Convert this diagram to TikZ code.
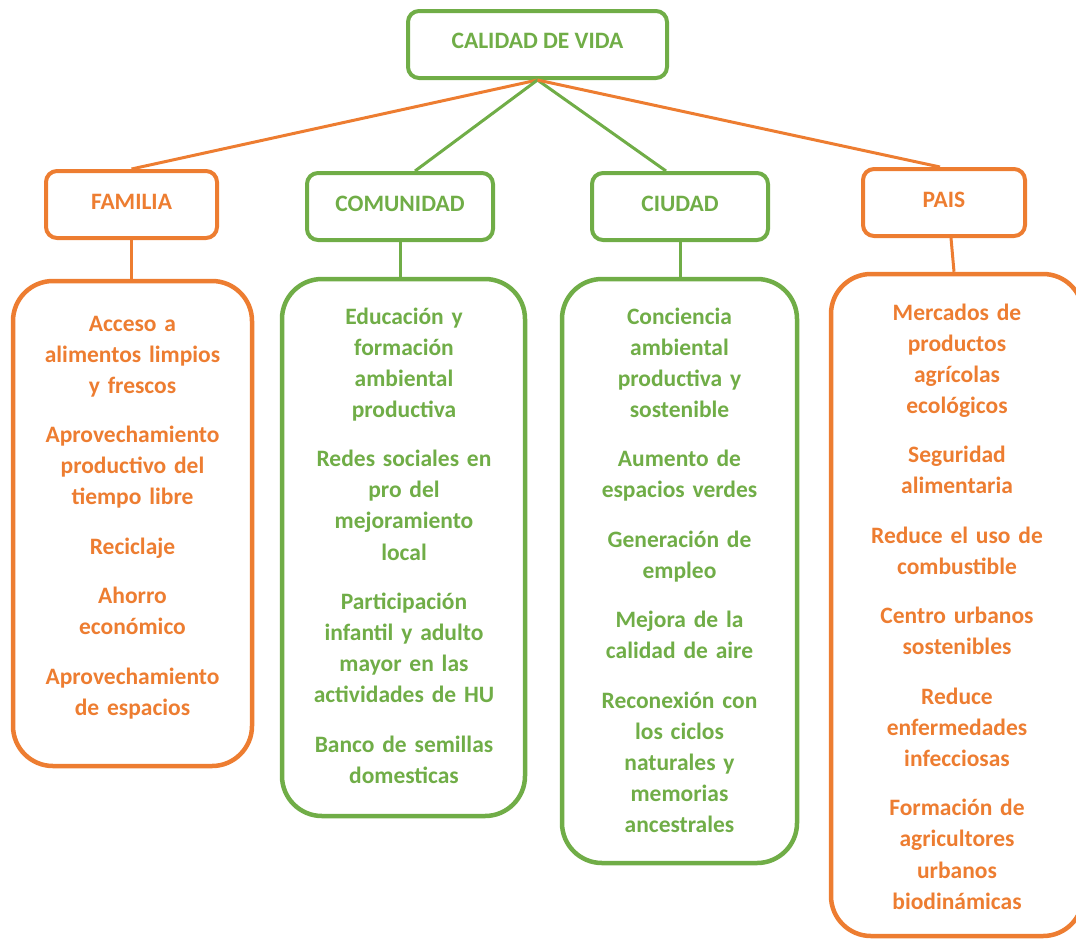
\documentclass[tikz,border=0pt]{standalone}
\usepackage{fontspec}
\setmainfont{Carlito}
\definecolor{myor}{HTML}{ED7D31}
\definecolor{mygr}{HTML}{70AD47}
\tikzset{
  hdr/.style={draw, rounded corners=11pt, line width=4pt, inner sep=0pt,
    minimum height=67pt, text height=15pt, text depth=6pt,
    font=\bfseries\fontsize{23.5pt}{28pt}\selectfont},
  lbox/.style={draw, rounded corners=40pt, line width=4.5pt, inner sep=0pt},
  ltext/.style={align=center, text width=250pt, inner sep=0pt, anchor=base,
    font=\bfseries\fontsize{23.5pt}{31.1pt}\selectfont},
  conn/.style={line width=3pt},
}
\begin{document}
\begin{tikzpicture}[x=1pt,y=-1pt]
\useasboundingbox (0,0) rectangle (1076,938);
\clip (0,0) rectangle (1076,938);

% header nodes
\node[hdr, draw=mygr, text=mygr, minimum width=259pt, text depth=7pt] (top) at (537.5,44.5) {CALIDAD DE VIDA};
\node[hdr, draw=myor, text=myor, minimum width=171pt] (familia) at (131.5,204.5) {FAMILIA};
\node[hdr, draw=mygr, text=mygr, minimum width=186pt] (comunidad) at (400,206.5) {COMUNIDAD};
\node[hdr, draw=mygr, text=mygr, minimum width=176pt] (ciudad) at (680,206.5) {CIUDAD};
\node[hdr, draw=myor, text=myor, minimum width=162pt] (pais) at (944,202.5) {PAIS};

% list boxes
\node[lbox, draw=myor, minimum width=239pt, minimum height=485pt] (fbox) at (132.5,523.5) {};
\node[lbox, draw=mygr, minimum width=243pt, minimum height=537pt] (cbox) at (403.5,547.5) {};
\node[lbox, draw=mygr, minimum width=235pt, minimum height=584pt] (ibox) at (679.5,571) {};
\node[lbox, draw=myor, minimum width=252pt, minimum height=662pt] (pbox) at (957,605) {};

% list texts
\node[ltext, text=myor] (ftext) at (132.5,331) {Acceso a\\alimentos limpios\\y frescos\\[18.3pt]
Aprovechamiento\\productivo del\\tiempo libre\\[18.3pt]
Reciclaje\\[18.3pt]
Ahorro\\económico\\[18.3pt]
Aprovechamiento\\de espacios};
\node[ltext, text=mygr] (ctext) at (404,324) {Educación y\\formación\\ambiental\\productiva\\[18.3pt]
Redes sociales en\\pro del\\mejoramiento\\local\\[18.3pt]
Participación\\infantil y adulto\\mayor en las\\actividades de HU\\[18.3pt]
Banco de semillas\\domesticas};
\node[ltext, text=mygr] (itext) at (679.5,324) {Conciencia\\ambiental\\productiva y\\sostenible\\[18.3pt]
Aumento de\\espacios verdes\\[18.3pt]
Generación de\\empleo\\[18.3pt]
Mejora de la\\calidad de aire\\[18.3pt]
Reconexión con\\los ciclos\\naturales y\\memorias\\ancestrales};
\node[ltext, text=myor] (ptext) at (957,320) {Mercados de\\productos\\agrícolas\\ecológicos\\[18.3pt]
Seguridad\\alimentaria\\[18.3pt]
Reduce el uso de\\combustible\\[18.3pt]
Centro urbanos\\sostenibles\\[18.3pt]
Reduce\\enfermedades\\infecciosas\\[18.3pt]
Formación de\\agricultores\\urbanos\\biodinámicas};

% connectors
\draw[conn, myor] (top.south) -- (familia.north);
\draw[conn, mygr] (top.south) -- ([xshift=15pt]comunidad.north);
\draw[conn, mygr] (top.south) -- ([xshift=-14pt]ciudad.north);
\draw[conn, myor] (top.south) -- ([xshift=-4pt]pais.north);
\draw[conn, myor] (familia.south) -- (familia.south |- fbox.north);
\draw[conn, mygr] (comunidad.south) -- (comunidad.south |- cbox.north);
\draw[conn, mygr] (ciudad.south) -- (ciudad.south |- ibox.north);
\draw[conn, myor] ([xshift=7pt]pais.south) -- ([xshift=-3pt]pbox.north);
\end{tikzpicture}
\end{document}
